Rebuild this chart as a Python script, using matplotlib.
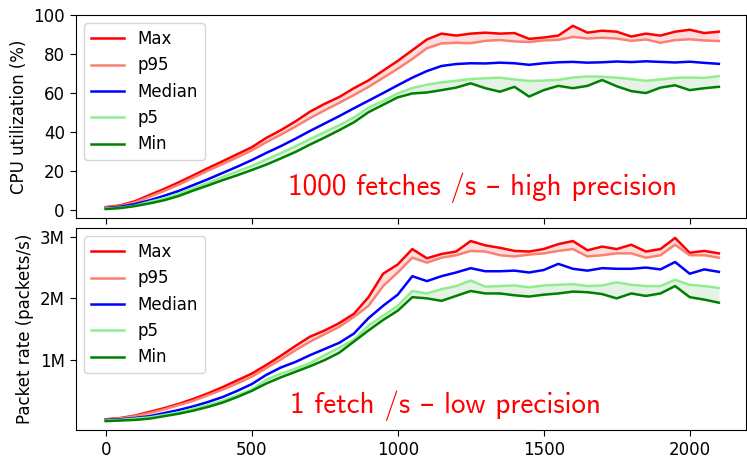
import numpy as np
import matplotlib
matplotlib.use("Agg")
import matplotlib.pyplot as plt

# time axis (s), sampled every 50
t = np.arange(0, 2101, 50)

# CPU utilization (%)
cpu_max = [1.5, 2.4, 4.5, 7.7, 10.8, 14.2, 17.8, 21.5, 25.0, 28.6, 32.2, 37.0, 41.0, 45.5, 50.5,
           54.5, 58.0, 62.5, 66.5, 71.5, 76.5, 82.0, 87.5, 90.5, 89.5, 90.5, 91.0, 90.5, 90.8, 87.8,
           88.5, 89.5, 94.5, 91.0, 92.0, 91.5, 89.0, 90.5, 89.5, 91.5, 92.5, 90.8, 91.5]
cpu_p95 = [1.3, 2.1, 3.9, 6.8, 9.8, 13.0, 16.6, 20.2, 23.6, 27.0, 30.6, 34.8, 38.7, 42.8, 47.2,
           51.2, 55.0, 59.0, 63.2, 67.8, 72.5, 77.5, 83.0, 85.5, 85.8, 85.6, 86.8, 87.2, 86.5, 86.2,
           87.0, 87.3, 88.8, 88.0, 88.4, 88.0, 86.8, 87.5, 85.8, 87.2, 87.6, 87.0, 86.7]
cpu_med = [1.0, 1.7, 3.0, 5.0, 7.3, 9.8, 12.8, 15.8, 19.0, 22.2, 25.6, 29.3, 32.8, 36.6, 40.6,
           44.4, 48.2, 52.2, 56.1, 60.0, 64.0, 67.9, 71.3, 73.9, 74.9, 75.3, 75.2, 75.6, 75.3, 74.5,
           75.3, 75.8, 76.0, 75.6, 75.8, 76.2, 75.9, 76.3, 76.0, 75.7, 76.1, 75.5, 75.0]
cpu_p5 = [0.8, 1.2, 2.2, 4.2, 6.0, 8.3, 11.2, 13.9, 16.9, 19.8, 22.6, 25.9, 29.2, 32.7, 36.4,
          40.0, 43.5, 47.5, 52.5, 56.0, 59.8, 62.6, 64.3, 65.5, 66.3, 67.2, 67.6, 67.9, 67.0, 66.2,
          66.4, 66.8, 68.0, 68.5, 68.4, 67.9, 67.2, 66.3, 67.0, 67.8, 68.0, 67.8, 68.7]
cpu_min = [0.5, 1.0, 2.0, 3.4, 5.0, 7.2, 10.0, 12.6, 15.3, 17.8, 20.5, 23.3, 26.5, 29.8, 33.6,
           37.2, 41.0, 45.0, 50.2, 54.0, 57.8, 59.8, 60.3, 61.5, 62.8, 65.0, 62.5, 60.7, 63.2, 58.2,
           61.5, 63.7, 62.5, 63.7, 66.7, 63.5, 61.0, 60.0, 62.8, 64.0, 61.5, 62.5, 63.2]

# packet rate (millions of packets/s)
pkt_max = [0.04, 0.06, 0.10, 0.16, 0.22, 0.29, 0.37, 0.46, 0.56, 0.67, 0.78, 0.92, 1.07, 1.23, 1.38,
           1.48, 1.60, 1.75, 2.02, 2.40, 2.55, 2.80, 2.65, 2.72, 2.76, 2.93, 2.86, 2.82, 2.77, 2.76,
           2.80, 2.88, 2.93, 2.78, 2.84, 2.80, 2.87, 2.76, 2.80, 2.98, 2.74, 2.77, 2.73]
pkt_p95 = [0.035, 0.055, 0.09, 0.14, 0.20, 0.27, 0.34, 0.43, 0.52, 0.62, 0.73, 0.87, 1.01, 1.16, 1.30,
           1.42, 1.54, 1.70, 1.88, 2.20, 2.42, 2.66, 2.58, 2.66, 2.70, 2.77, 2.76, 2.70, 2.68, 2.71,
           2.73, 2.77, 2.80, 2.68, 2.70, 2.73, 2.73, 2.66, 2.70, 2.87, 2.70, 2.70, 2.66]
pkt_med = [0.03, 0.04, 0.06, 0.09, 0.14, 0.19, 0.25, 0.32, 0.40, 0.50, 0.61, 0.76, 0.88, 0.97, 1.08,
           1.18, 1.28, 1.43, 1.68, 1.88, 2.06, 2.36, 2.28, 2.36, 2.42, 2.49, 2.44, 2.44, 2.45, 2.42,
           2.46, 2.56, 2.48, 2.45, 2.49, 2.48, 2.48, 2.50, 2.47, 2.59, 2.40, 2.47, 2.43]
pkt_p5 = [0.02, 0.03, 0.05, 0.07, 0.11, 0.15, 0.21, 0.27, 0.34, 0.43, 0.52, 0.68, 0.78, 0.86, 0.95,
          1.08, 1.20, 1.33, 1.56, 1.72, 1.88, 2.12, 2.08, 2.15, 2.20, 2.29, 2.19, 2.20, 2.21, 2.18,
          2.21, 2.22, 2.23, 2.20, 2.21, 2.26, 2.22, 2.20, 2.20, 2.30, 2.22, 2.20, 2.17]
pkt_min = [0.01, 0.02, 0.03, 0.05, 0.09, 0.13, 0.18, 0.24, 0.31, 0.40, 0.50, 0.62, 0.72, 0.81, 0.90,
           1.00, 1.12, 1.30, 1.48, 1.65, 1.80, 2.02, 2.00, 1.96, 2.04, 2.12, 2.08, 2.08, 2.05, 2.03,
           2.06, 2.08, 2.11, 2.10, 2.07, 2.00, 2.08, 2.04, 2.08, 2.20, 2.02, 1.98, 1.93]

labels = ["Max", "p95", "Median", "p5", "Min"]
colors = ["red", "salmon", "blue", "lightgreen", "green"]

plt.rcParams["font.size"] = 12

fig = plt.figure(figsize=(7.47, 4.58), dpi=100)
ax1 = fig.add_axes([0.1017, 0.524, 0.897, 0.443])
ax2 = fig.add_axes([0.1017, 0.061, 0.897, 0.441], sharex=ax1)

def draw(ax, series, scale):
    s = [np.array(v) * scale for v in series]
    ax.fill_between(t, s[0], s[1], color="red", alpha=0.13, lw=0)
    ax.fill_between(t, s[3], s[4], color="green", alpha=0.1, lw=0)
    for v, lab, c in zip(s, labels, colors):
        ax.plot(t, v, color=c, lw=1.8, label=lab)
    ax.legend(loc="upper left")
    ax.tick_params(length=4.5)

draw(ax1, [cpu_max, cpu_p95, cpu_med, cpu_p5, cpu_min], 1)
draw(ax2, [pkt_max, pkt_p95, pkt_med, pkt_p5, pkt_min], 1e6)

ax1.set_ylim(-4.1, 100)
ax1.set_ylabel("CPU utilization (%)")
plt.setp(ax1.get_xticklabels(), visible=False)

ax2.set_xlim(-102, 2193)
ax2.set_ylim(-0.135e6, 3.14e6)
ax2.set_yticks([1e6, 2e6, 3e6])
ax2.set_yticklabels(["1M", "2M", "3M"])
ax2.set_ylabel("Packet rate (packets/s)")

ax1.text(0.316, 0.148, "1000 fetches /s \u2013 high precision", transform=ax1.transAxes,
         color="red", fontsize=21, va="center", family=["cmss10", "DejaVu Sans"])
ax2.text(0.319, 0.119, "1 fetch /s \u2013 low precision", transform=ax2.transAxes,
         color="red", fontsize=21, va="center", family=["cmss10", "DejaVu Sans"])

fig.savefig("out.png", dpi=100)
